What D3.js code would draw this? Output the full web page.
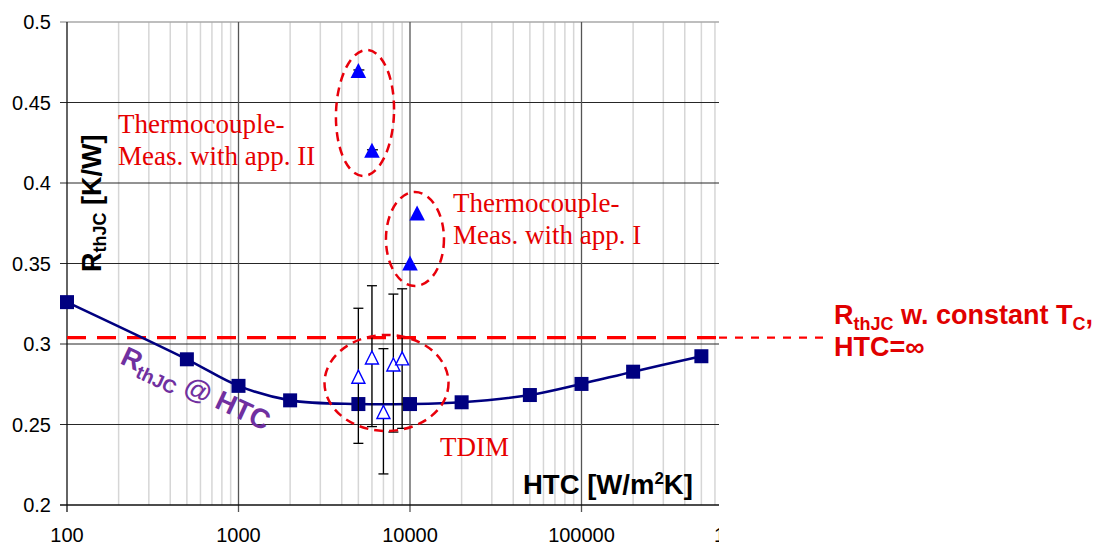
<!DOCTYPE html>
<html><head><meta charset="utf-8">
<script src="https://cdn.jsdelivr.net/npm/d3@7"></script>
<style>html,body{margin:0;padding:0;background:#fff;}svg{display:block;}</style>
</head><body>
<svg id="c" width="1104" height="545"></svg>
<script>
// ---- data ----
const htcModel = [100, 500, 1000, 2000, 5000, 10000, 20000, 50000, 100000, 200000, 500000];
const rthModel = [0.326, 0.2905, 0.274, 0.265, 0.2627, 0.2627, 0.2638, 0.2683, 0.2752, 0.2828, 0.2924];

const htcAppII = [5000, 6000];
const rthAppII = [0.4696, 0.4200];

const htcAppI = [10000, 11000];
const rthAppI = [0.350, 0.381];

const htcTDIM = [5000, 6000, 7000, 8000, 9000];
const rthTDIM = [0.2797, 0.2916, 0.2578, 0.2873, 0.2911];
const rthTDIMHi = [0.3222, 0.3362, 0.2971, 0.3310, 0.3343];
const rthTDIMLo = [0.2383, 0.2487, 0.2193, 0.2453, 0.2476];

const rthConstTC = 0.304;

const yTicks = [0.2, 0.25, 0.3, 0.35, 0.4, 0.45, 0.5];
const xTicks = [100, 1000, 10000, 100000, 1000000];
const xTickLabels = ["100", "1000", "10000", "100000", "1000000"];

// ellipse annotations (centre in data units)
const ellHTC = [5465, 10690, 7295];
const ellRth = [0.4435, 0.3652, 0.2758];

// ---- drawing ----
const svg = d3.select("#c");
const x = d3.scaleLog().domain([100, 1e6]).range([67, 753]);
const y = d3.scaleLinear().domain([0.2, 0.5]).range([505, 22]);
const clipRight = 719;

svg.append("defs").append("clipPath").attr("id", "clipChart")
  .append("rect").attr("x", 0).attr("y", 0).attr("width", clipRight).attr("height", 545);

const g = svg.append("g").attr("clip-path", "url(#clipChart)");

// minor vertical gridlines
const minor = [];
for (let d = 100; d < 1e6; d *= 10) for (let k = 2; k <= 9; k++) minor.push(d * k);
g.append("g").selectAll("line").data(minor).join("line")
  .attr("x1", d => x(d)).attr("x2", d => x(d))
  .attr("y1", y(0.5)).attr("y2", y(0.2))
  .attr("stroke", "#d6d6d6").attr("stroke-width", 1.5);

// top border
g.append("line").attr("x1", x(100)).attr("x2", x(1e6)).attr("y1", y(0.5)).attr("y2", y(0.5))
  .attr("stroke", "#a8a8a8").attr("stroke-width", 1.5);

// major horizontal gridlines + ticks
g.append("g").selectAll("line").data(yTicks.filter(v => v > 0.2 && v < 0.5)).join("line")
  .attr("x1", x(100) - 7).attr("x2", x(1e6))
  .attr("y1", d => y(d)).attr("y2", d => y(d))
  .attr("stroke", "#262626").attr("stroke-width", 1);
g.append("line").attr("x1", x(100) - 7).attr("x2", x(100)).attr("y1", y(0.5)).attr("y2", y(0.5))
  .attr("stroke", "#a8a8a8").attr("stroke-width", 1.5);

// major vertical gridlines
g.append("g").selectAll("line").data(xTicks.filter(v => v > 100)).join("line")
  .attr("x1", d => x(d)).attr("x2", d => x(d))
  .attr("y1", y(0.5)).attr("y2", y(0.2) + 7)
  .attr("stroke", "#555").attr("stroke-width", 1.3);

// axes
g.append("line").attr("x1", x(100)).attr("x2", x(100)).attr("y1", y(0.5)).attr("y2", y(0.2) + 7)
  .attr("stroke", "#111").attr("stroke-width", 1.3);
g.append("line").attr("x1", x(100) - 7).attr("x2", x(1e6)).attr("y1", y(0.2)).attr("y2", y(0.2))
  .attr("stroke", "#111").attr("stroke-width", 1.3);

// tick labels
g.append("g").selectAll("text").data(yTicks).join("text")
  .attr("x", 51).attr("y", d => y(d)).attr("dy", "0.36em")
  .attr("text-anchor", "end")
  .style("font-family", "'Liberation Sans', Arial, sans-serif").style("font-size", "20px")
  .text(d => String(d));
g.append("g").selectAll("text").data(xTicks).join("text")
  .attr("x", d => x(d)).attr("y", 542)
  .attr("text-anchor", "middle")
  .style("font-family", "'Liberation Sans', Arial, sans-serif").style("font-size", "20px")
  .text((d, i) => xTickLabels[i]);

// constant-TC dashed line
g.append("line").attr("x1", x(100)).attr("x2", clipRight).attr("y1", y(rthConstTC)).attr("y2", y(rthConstTC))
  .attr("stroke", "#ff0000").attr("stroke-width", 3.3).attr("stroke-dasharray", "19,11");

// model line
const modelPts = htcModel.map((h, i) => [x(h), y(rthModel[i])]);
g.append("path").attr("d", d3.line().curve(d3.curveCatmullRom.alpha(0.5))(modelPts))
  .attr("fill", "none").attr("stroke", "#000080").attr("stroke-width", 2.6);
g.append("g").selectAll("rect").data(modelPts).join("rect")
  .attr("x", d => d[0] - 7).attr("y", d => d[1] - 7).attr("width", 14).attr("height", 14)
  .attr("fill", "#000080");

// error bars TDIM
const eb = g.append("g").attr("stroke", "#000").attr("stroke-width", 1.3);
htcTDIM.forEach((h, i) => {
  const cx = x(h);
  eb.append("line").attr("x1", cx).attr("x2", cx).attr("y1", y(rthTDIMHi[i])).attr("y2", y(rthTDIMLo[i]));
  eb.append("line").attr("x1", cx - 5).attr("x2", cx + 5).attr("y1", y(rthTDIMHi[i])).attr("y2", y(rthTDIMHi[i]));
  eb.append("line").attr("x1", cx - 5).attr("x2", cx + 5).attr("y1", y(rthTDIMLo[i])).attr("y2", y(rthTDIMLo[i]));
});
// zero-length caps for app II
htcAppII.forEach((h, i) => {
  eb.append("line").attr("x1", x(h) - 5).attr("x2", x(h) + 6).attr("y1", y(rthAppII[i]) - 1).attr("y2", y(rthAppII[i]) - 1);
});

const tri = "M0,-8L7.8,7L-7.8,7Z";
const triOpen = "M0,-6.5L6.5,6.5L-6.5,6.5Z";
g.append("g").selectAll("path").data(htcTDIM).join("path")
  .attr("d", triOpen).attr("transform", (d, i) => `translate(${x(d)},${y(rthTDIM[i])})`)
  .attr("fill", "#fff").attr("stroke", "#0000ff").attr("stroke-width", 1.4);
g.append("g").selectAll("path").data(htcAppII).join("path")
  .attr("d", tri).attr("transform", (d, i) => `translate(${x(d)},${y(rthAppII[i])})`)
  .attr("fill", "#0000ff");
g.append("g").selectAll("path").data(htcAppI).join("path")
  .attr("d", tri).attr("transform", (d, i) => `translate(${x(d)},${y(rthAppI[i])})`)
  .attr("fill", "#0000ff");

// ellipses
const ellR = [[29, 63, 2], [29, 47, 0], [62, 48, 0]];
g.append("g").selectAll("ellipse").data(ellHTC).join("ellipse")
  .attr("transform", (d, i) => `translate(${x(d)},${y(ellRth[i])}) rotate(${ellR[i][2]})`)
  .attr("rx", (d, i) => ellR[i][0]).attr("ry", (d, i) => ellR[i][1])
  .attr("fill", "none").attr("stroke", "#e8000b").attr("stroke-width", 2.5).attr("stroke-dasharray", "9,6");

// red serif annotations
const serif = "'Liberation Serif', 'Times New Roman', serif";
function serifText(lines, x0, y0) {
  const t = g.append("text").attr("x", x0).attr("y", y0)
    .style("font-family", serif).style("font-size", "27px").attr("fill", "#e60000");
  lines.forEach((l, i) => t.append("tspan").attr("x", x0).attr("dy", i === 0 ? 0 : 32).text(l));
}
serifText(["Thermocouple-", "Meas. with app. II"], 118, 133);
serifText(["Thermocouple-", "Meas. with app. I"], 453, 212);
serifText(["TDIM"], 440, 456);

// purple label
const bold = "'Liberation Sans', Arial, sans-serif";
const pl = g.append("text").attr("transform", "translate(119,363) rotate(25)")
  .style("font-family", bold).style("font-weight", "bold").style("font-size", "27.5px").attr("fill", "#7030a0");
pl.append("tspan").text("R");
pl.append("tspan").attr("dy", 6).style("font-size", "19px").text("thJC");
pl.append("tspan").attr("dy", -6).text(" @ HTC");

// axis titles
const yt = g.append("text").attr("transform", "translate(101,272) rotate(-90)")
  .style("font-family", bold).style("font-weight", "bold").style("font-size", "27px").attr("fill", "#000");
yt.append("tspan").text("R");
yt.append("tspan").attr("dy", 5).style("font-size", "18px").text("thJC");
yt.append("tspan").attr("dy", -5).text(" [K/W]");

const xt = g.append("text").attr("x", 523).attr("y", 494)
  .style("font-family", bold).style("font-weight", "bold").style("font-size", "27.5px").attr("fill", "#000");
xt.append("tspan").text("HTC [W/m");
xt.append("tspan").style("font-size", "17px").attr("dy", -10).text("2");
xt.append("tspan").attr("dy", 10).text("K]");

// outside annotation
svg.append("line").attr("x1", clipRight).attr("x2", 830).attr("y1", y(rthConstTC)).attr("y2", y(rthConstTC))
  .attr("stroke", "#ff0000").attr("stroke-width", 2.2).attr("stroke-dasharray", "8,8");
const an = svg.append("text").attr("x", 834).attr("y", 324)
  .style("font-family", bold).style("font-weight", "bold").style("font-size", "27px").attr("fill", "#e00000");
an.append("tspan").text("R");
an.append("tspan").attr("dy", 6).style("font-size", "18px").text("thJC");
an.append("tspan").attr("dy", -6).text(" w. constant T");
an.append("tspan").attr("dy", 6).style("font-size", "18px").text("C");
an.append("tspan").attr("dy", -6).text(",");
svg.append("text").attr("x", 834).attr("y", 356)
  .style("font-family", bold).style("font-weight", "bold").style("font-size", "27px").attr("fill", "#e00000")
  .text("HTC=∞");
</script>
</body></html>
